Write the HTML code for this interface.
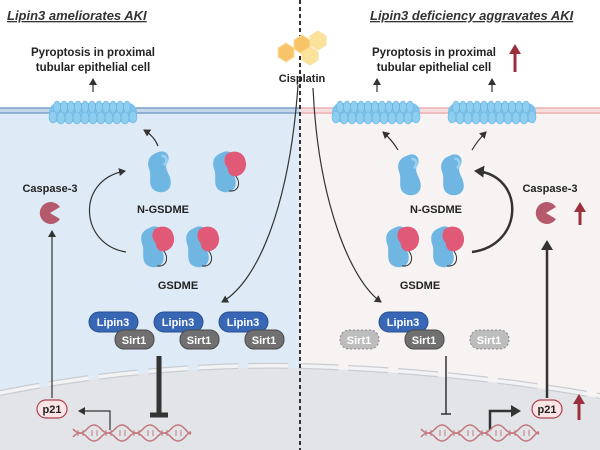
<!DOCTYPE html>
<html><head><meta charset="utf-8"><style>
body{margin:0;width:600px;height:450px;overflow:hidden;background:#fff}
svg{display:block}
text{font-family:"Liberation Sans",Arial,sans-serif;font-weight:bold}
</style></head><body>
<svg width="600" height="450" viewBox="0 0 600 450" xmlns="http://www.w3.org/2000/svg">
<defs>
<marker id="ah" markerWidth="8" markerHeight="8" refX="6" refY="4" orient="auto" markerUnits="userSpaceOnUse"><path d="M0,0 L7,4 L0,8 Z" fill="#333"/></marker>
<marker id="ahb" markerWidth="12" markerHeight="12" refX="8" refY="6" orient="auto" markerUnits="userSpaceOnUse"><path d="M0,0 L10,6 L0,12 Z" fill="#333"/></marker>
<g id="ng0"><path d="M-3,-14 C4,-18 9,-12 5,-6 C3,-2 8,2 8,8 C8,15 0,17 -5,13 C-9,9 -6,3 -8,-2 C-10,-8 -8,-12 -3,-14Z" fill="#6fb6e3"/><path d="M1,-12 C5,-12 6,-8 3,-5" stroke="#9bd0ef" stroke-width="2" fill="none"/></g>
<g id="ng"><g transform="scale(1.35)"><use href="#ng0"/></g></g>
<g id="gs"><g transform="scale(1.35)"><use href="#ng0"/><path d="M1,-13 C6,-17 14,-15 15,-9 C17,-4 14,2 9,3 C5,4 2,1 2,-3 C-1,-6 -1,-10 1,-13Z" fill="#e05a78"/><path d="M8,3 C12,8 10,15 3,14" stroke="#333" stroke-width="0.8" fill="none"/></g></g>
<g id="pore"><rect x="-44" y="-9" width="88" height="19" rx="9" fill="#7cc2ea"/>
<g fill="#8ccdf0" stroke="#6bb2de" stroke-width="0.6">
<ellipse cx="-36" cy="-5" rx="3.5" ry="6"/><ellipse cx="-29" cy="-5" rx="3.5" ry="6"/><ellipse cx="-22" cy="-5" rx="3.5" ry="6"/><ellipse cx="-15" cy="-5" rx="3.5" ry="6"/><ellipse cx="-8" cy="-5" rx="3.5" ry="6"/><ellipse cx="-1" cy="-5" rx="3.5" ry="6"/><ellipse cx="6" cy="-5" rx="3.5" ry="6"/><ellipse cx="13" cy="-5" rx="3.5" ry="6"/><ellipse cx="20" cy="-5" rx="3.5" ry="6"/><ellipse cx="27" cy="-5" rx="3.5" ry="6"/><ellipse cx="34" cy="-5" rx="3.5" ry="6"/>
<ellipse cx="-40" cy="5" rx="4" ry="6"/><ellipse cx="-32" cy="6" rx="4" ry="6"/><ellipse cx="-24" cy="6" rx="4" ry="6"/><ellipse cx="-16" cy="6" rx="4" ry="6"/><ellipse cx="-8" cy="6" rx="4" ry="6"/><ellipse cx="0" cy="6" rx="4" ry="6"/><ellipse cx="8" cy="6" rx="4" ry="6"/><ellipse cx="16" cy="6" rx="4" ry="6"/><ellipse cx="24" cy="6" rx="4" ry="6"/><ellipse cx="32" cy="6" rx="4" ry="6"/><ellipse cx="40" cy="5" rx="4" ry="6"/></g></g>
<g id="dna" stroke="#c27a80" stroke-width="1.6" fill="none">
<path d="M0,-4 q7,8 14,0 t14,0 t14,0 t14,0 t14,0 t14,0 t14,0 t14,0 t5,3"/>
<path d="M0,4 q7,-8 14,0 t14,0 t14,0 t14,0 t14,0 t14,0 t14,0 t14,0 t5,-3"/>
<g stroke-width="1"><path d="M5,-3v6M10,-3v6M19,-3v6M24,-3v6M33,-3v6M38,-3v6M47,-3v6M52,-3v6M61,-3v6M66,-3v6M75,-3v6M80,-3v6M89,-3v6M94,-3v6M103,-3v6M108,-3v6"/></g></g>
<g id="pac"><path d="M0,0 L10,-6 A11,11 0 1 0 10,6 Z" fill="#b45a6c"/></g>
</defs>
<rect x="0" y="110" width="300" height="340" fill="#deebf6"/>
<rect x="300" y="110" width="300" height="340" fill="#f8f3f3"/>
<path d="M0,395 Q150,365 300,368 Q450,372 600,398 L600,450 L0,450Z" fill="#e2e4e8"/>
<path d="M0,393 Q150,363 300,366 Q450,370 600,396" stroke="#c9ccd1" stroke-width="6" stroke-dasharray="40,10" fill="none"/>
<path d="M0,393 Q150,363 300,366 Q450,370 600,396" stroke="#f2f3f5" stroke-width="3.5" stroke-dasharray="40,10" fill="none"/>
<rect x="0" y="108" width="300" height="5" fill="#c4d7ea"/><line x1="0" y1="108" x2="300" y2="108" stroke="#7c9fc9" stroke-width="1.5"/><line x1="0" y1="113" x2="300" y2="113" stroke="#7c9fc9" stroke-width="1.5"/>
<rect x="300" y="108" width="300" height="5" fill="#f7dede"/><line x1="300" y1="108" x2="600" y2="108" stroke="#eab0b4" stroke-width="1.5"/><line x1="300" y1="113" x2="600" y2="113" stroke="#eab0b4" stroke-width="1.5"/>
<line x1="300" y1="0" x2="300" y2="450" stroke="#333" stroke-width="2" stroke-dasharray="4,3"/>
<text x="7" y="20" font-size="13" font-style="italic" fill="#333" text-decoration="underline">Lipin3 ameliorates AKI</text>
<text x="370" y="20" font-size="13" font-style="italic" fill="#333" text-decoration="underline">Lipin3 deficiency aggravates AKI</text>
<g font-size="11.5" fill="#222" text-anchor="middle">
<text x="93" y="56">Pyroptosis in proximal</text><text x="93" y="71">tubular epithelial cell</text>
<text x="434" y="56">Pyroptosis in proximal</text><text x="434" y="71">tubular epithelial cell</text>
<text x="302" y="82" font-size="11">Cisplatin</text>
<text x="163" y="213" font-size="11">N-GSDME</text><text x="436" y="213" font-size="11">N-GSDME</text>
<text x="178" y="289" font-size="11">GSDME</text><text x="420" y="289" font-size="11">GSDME</text>
<text x="50" y="192" font-size="11">Caspase-3</text><text x="550" y="192" font-size="11">Caspase-3</text>
</g>
<g fill="#f7c46a" stroke="#fbe0a0" stroke-width="1"><polygon points="278,48 286,43 294,48 294,57 286,62 278,57"/><polygon points="294,40 302,35 310,40 310,49 302,54 294,49"/><polygon points="310,36 318,31 326,36 326,45 318,50 310,45" fill="#fbe29a"/><polygon points="302,52 310,47 318,52 318,60 310,65 302,60" fill="#fbe29a"/></g>
<use href="#pore" x="93" y="112"/><use href="#pore" x="376" y="112"/><use href="#pore" x="492" y="112"/>
<g stroke="#333" stroke-width="1.2" fill="none" marker-end="url(#ah)">
<line x1="93" y1="92" x2="93" y2="79"/><line x1="377" y1="92" x2="377" y2="79"/><line x1="492" y1="92" x2="492" y2="79"/>
<path d="M158,146 Q154,136 144,130"/><path d="M398,150 Q392,140 383,132"/><path d="M472,150 Q478,140 486,132"/>
<path d="M126,252 C80,245 75,180 125,171"/>
<line x1="52" y1="398" x2="52" y2="231"/>
<path d="M110,430 V411 H79"/>
<path d="M298,85 C290,200 260,280 222,302"/>
<path d="M313,88 C318,200 350,280 381,302"/>
</g>
<g stroke="#333" stroke-width="2.5" fill="none" marker-end="url(#ahb)">
<path d="M472,252 C525,245 525,175 476,171"/>
<line x1="547" y1="398" x2="547" y2="242"/>
<path d="M490,430 V411 H519"/>
</g>
<g stroke="#9c2f3c" stroke-width="3" fill="#9c2f3c"><line x1="515" y1="72" x2="515" y2="52"/><line x1="580" y1="225" x2="580" y2="210"/><line x1="579" y1="420" x2="579" y2="402"/></g>
<g fill="#9c2f3c"><polygon points="509,54 515,44 521,54"/><polygon points="574,212 580,202 586,212"/><polygon points="573,404 579,394 585,404"/></g>
<use href="#ng" x="160" y="172"/><use href="#gs" x="225" y="172"/>
<use href="#gs" x="153" y="247"/><use href="#gs" x="198" y="247"/>
<use href="#ng" x="410" y="175"/><use href="#ng" x="453" y="175"/>
<use href="#gs" x="398" y="247"/><use href="#gs" x="443" y="247"/>
<use href="#pac" x="50" y="213"/><use href="#pac" x="546" y="213"/>
<g font-size="11" text-anchor="middle" fill="#fff">
<g><rect x="89" y="312" width="49" height="20" rx="10" fill="#3767b5" stroke="#2a4f90"/><text x="113" y="326">Lipin3</text><rect x="115" y="330" width="39" height="19" rx="9" fill="#707070" stroke="#4a4a4a"/><text x="134" y="344">Sirt1</text></g>
<g><rect x="154" y="312" width="49" height="20" rx="10" fill="#3767b5" stroke="#2a4f90"/><text x="178" y="326">Lipin3</text><rect x="180" y="330" width="39" height="19" rx="9" fill="#707070" stroke="#4a4a4a"/><text x="199" y="344">Sirt1</text></g>
<g><rect x="219" y="312" width="49" height="20" rx="10" fill="#3767b5" stroke="#2a4f90"/><text x="243" y="326">Lipin3</text><rect x="245" y="330" width="39" height="19" rx="9" fill="#707070" stroke="#4a4a4a"/><text x="264" y="344">Sirt1</text></g>
<g><rect x="379" y="312" width="49" height="20" rx="10" fill="#3767b5" stroke="#2a4f90"/><text x="403" y="326">Lipin3</text><rect x="405" y="330" width="39" height="19" rx="9" fill="#707070" stroke="#4a4a4a"/><text x="424" y="344">Sirt1</text></g>
<rect x="340" y="330" width="39" height="19" rx="9" fill="#bdbdbd" stroke="#888" stroke-dasharray="2,2"/><text x="359" y="344">Sirt1</text>
<rect x="470" y="330" width="39" height="19" rx="9" fill="#bdbdbd" stroke="#888" stroke-dasharray="2,2"/><text x="489" y="344">Sirt1</text>
</g>
<line x1="159" y1="356" x2="159" y2="413" stroke="#333" stroke-width="5"/><line x1="150" y1="415" x2="168" y2="415" stroke="#333" stroke-width="5"/>
<line x1="446" y1="356" x2="446" y2="414" stroke="#333" stroke-width="1.5"/><line x1="441" y1="414" x2="451" y2="414" stroke="#333" stroke-width="1.5"/>
<rect x="37" y="400" width="30" height="18" rx="9" fill="#fbe4e4" stroke="#b04050" stroke-width="1.2"/><text x="52" y="413" font-size="11" text-anchor="middle" fill="#222">p21</text>
<rect x="532" y="400" width="30" height="18" rx="9" fill="#fbe4e4" stroke="#b04050" stroke-width="1.2"/><text x="547" y="413" font-size="11" text-anchor="middle" fill="#222">p21</text>
<use href="#dna" x="73" y="433"/><use href="#dna" x="421" y="433"/>
</svg>
</body></html>
